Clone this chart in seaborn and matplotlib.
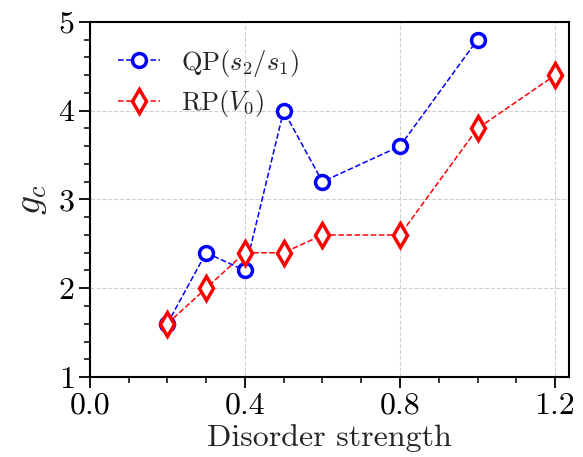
import matplotlib
matplotlib.use("Agg")
import matplotlib.pyplot as plt
import seaborn as sns
import pandas as pd
from matplotlib.ticker import MultipleLocator

qp_x = [0.2, 0.3, 0.4, 0.5, 0.6, 0.8, 1.0]
qp_y = [1.6, 2.4, 2.2, 4.0, 3.2, 3.6, 4.8]
rp_x = [0.2, 0.3, 0.4, 0.5, 0.6, 0.8, 1.0, 1.2]
rp_y = [1.6, 2.0, 2.4, 2.4, 2.6, 2.6, 3.8, 4.4]
labels = [r"QP$(s_2/s_1)$", r"RP$(V_0)$"]

sns.set_style("ticks")
plt.rcParams["font.family"] = ["cmr10"]
plt.rcParams["mathtext.fontset"] = "cm"
plt.rcParams["axes.formatter.use_mathtext"] = True

fig = plt.figure(figsize=(5.83, 4.57), dpi=100)
ax = fig.add_axes([0.154, 0.175, 0.822, 0.777])

df_qp = pd.DataFrame({"x": qp_x, "y": qp_y})
df_rp = pd.DataFrame({"x": rp_x, "y": rp_y})

sns.lineplot(data=df_qp, x="x", y="y", ax=ax, color="blue", linestyle="--",
             linewidth=1.1, marker="o", markersize=10, markerfacecolor="white",
             markeredgecolor="blue", markeredgewidth=2.5, label=labels[0])
sns.lineplot(data=df_rp, x="x", y="y", ax=ax, color="red", linestyle="--",
             linewidth=1.1, marker="d", markersize=12, markerfacecolor="white",
             markeredgecolor="red", markeredgewidth=2.5, label=labels[1])

ax.set_xlim(0, 1.236)
ax.set_ylim(1, 5)
ax.xaxis.set_major_locator(MultipleLocator(0.4))
ax.xaxis.set_minor_locator(MultipleLocator(0.1))
ax.yaxis.set_major_locator(MultipleLocator(1))
ax.yaxis.set_minor_locator(MultipleLocator(0.2))
ax.xaxis.set_major_formatter(matplotlib.ticker.FormatStrFormatter("%.1f"))
ax.grid(True, which="major", linestyle="--", color="#d0d0d0", linewidth=0.8)
ax.set_axisbelow(True)
for s in ax.spines.values():
    s.set_linewidth(1.5)
    s.set_color("black")
ax.tick_params(which="major", length=8, width=1.3, labelsize=23, direction="out",
               colors="black", pad=3)
ax.tick_params(which="minor", length=4, width=1.1, direction="out", colors="black")
ax.set_xlabel("Disorder strength", fontsize=23, labelpad=3)
ax.set_ylabel(r"$g_c$", fontsize=27, labelpad=6)

leg = ax.legend(loc="upper left", fontsize=19, frameon=False, handlelength=1.6,
                borderaxespad=0.3, labelspacing=0.35, handletextpad=0.8,
                bbox_to_anchor=(0.02, 0.98))

fig.savefig("out.png", dpi=100)
